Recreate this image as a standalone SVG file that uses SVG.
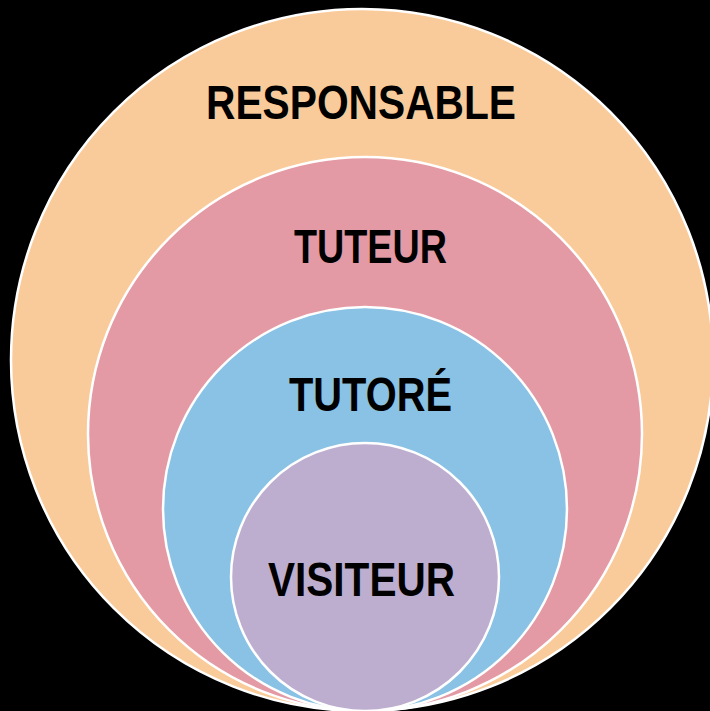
<svg xmlns="http://www.w3.org/2000/svg" width="710" height="711" viewBox="0 0 710 711">
<style>
.c{stroke:#ffffff;stroke-width:2.5}
.t{font-family:"Liberation Sans",Arial,sans-serif;font-weight:bold;font-size:49px;fill:#000000}
</style>
<rect x="0" y="0" width="710" height="711" fill="#000000"/>
<g id="responsable">
<circle class="c" cx="362" cy="360" r="351" fill="#FACB9A"/>
<text class="t" x="206" y="119" textLength="310" lengthAdjust="spacingAndGlyphs">RESPONSABLE</text>
</g>
<g id="tuteur">
<circle class="c" cx="365" cy="434" r="277" fill="#E49AA4"/>
<text class="t" x="294" y="263" textLength="153" lengthAdjust="spacingAndGlyphs">TUTEUR</text>
</g>
<g id="tutore">
<circle class="c" cx="365" cy="509" r="202" fill="#89C2E4"/>
<text class="t" x="289" y="411" textLength="163" lengthAdjust="spacingAndGlyphs">TUTORÉ</text>
</g>
<g id="visiteur">
<circle class="c" cx="365" cy="577" r="134" fill="#BDAECF"/>
<text class="t" x="268" y="596" textLength="187" lengthAdjust="spacingAndGlyphs">VISITEUR</text>
</g>
<g id="connectors"></g>
</svg>
